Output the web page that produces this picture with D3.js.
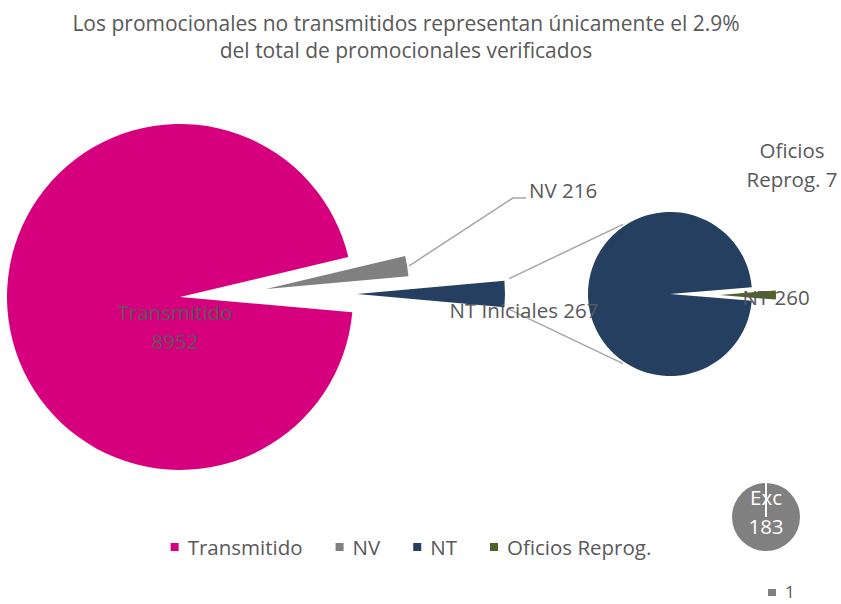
<!DOCTYPE html>
<html>
<head>
<meta charset="utf-8">
<script src="https://cdn.jsdelivr.net/npm/d3@7"></script>
<style>
body { margin: 0; background: #fff; }
text { font-family: "Open Sans", sans-serif; }
</style>
</head>
<body>
<script>
var w = 841;
var h = 604;

// data
var titleLines = ["Los promocionales no transmitidos representan únicamente el 2.9%",
                  "del total de promocionales verificados"];
var mainLabels = ["Transmitido", "NV", "NT Iniciales"];
var mainValues = [8952, 216, 267];
var subLabels = ["NT", "Oficios Reprog."];
var subValues = [260, 7];
var legendLabels = ["Transmitido", "NV", "NT", "Oficios Reprog."];
var excLabels = ["Exc"];
var excValues = [183];
var excLegend = ["1"];

var colors = ["#d6007f", "#808080", "#243f60", "#4f6228"];
var textColor = "#595959";
var lineColor = "#a6a6a6";

var svg = d3.select("body")
    .append("svg")
    .attr("width", w)
    .attr("height", h);

// title
svg.selectAll("text.title")
    .data(titleLines)
    .enter()
    .append("text")
    .attr("class", "title")
    .attr("x", 406)
    .attr("y", function(d, i) { return 31 + i * 27; })
    .attr("text-anchor", "middle")
    .attr("fill", textColor)
    .style("font-size", "21px")
    .text(function(d) { return d; });

// ---- main pie ----
var mainCx = 180, mainCy = 297, mainR = 173;
// NT slice centred at 3 o'clock, like Excel's pie of pie
var ntFrac = mainValues[2] / d3.sum(mainValues);
var mainRot = Math.PI / 2 + Math.PI * ntFrac;
var mainPie = d3.pie().sort(null).startAngle(mainRot).endAngle(mainRot + 2 * Math.PI);
var mainArcs = mainPie(mainValues);
var mainShift = [[0, 0], [86, -8], [177, -3]];   // exploded slices
var mainRadius = [mainR, 143, 148];
var mainColors = [colors[0], colors[1], colors[2]];

var mainGroup = svg.append("g").attr("id", "main");
mainGroup.selectAll("path")
    .data(mainArcs)
    .enter()
    .append("path")
    .attr("transform", function(d, i) {
        return "translate(" + (mainCx + mainShift[i][0]) + "," + (mainCy + mainShift[i][1]) + ")";
    })
    .attr("d", function(d, i) {
        return d3.arc().innerRadius(0).outerRadius(mainRadius[i])(d);
    })
    .attr("fill", function(d, i) { return mainColors[i]; });

function pt(cx, cy, r, a) {
    return [cx + r * Math.sin(a), cy - r * Math.cos(a)];
}

// ---- secondary pie ----
var subCx = 670, subCy = 294, subR = 82;
var ofFrac = subValues[1] / d3.sum(subValues);
var subRot = Math.PI / 2 + Math.PI * ofFrac;
var subPie = d3.pie().sort(null).startAngle(subRot).endAngle(subRot + 2 * Math.PI);
var subArcs = subPie(subValues);
var subShift = [[0, 0], [50, 1]];
var subRadius = [subR, 56];
var subColors = [colors[2], colors[3]];

// connector lines from exploded NT slice to secondary pie
var nt = mainArcs[2];
var ntCx = mainCx + mainShift[2][0], ntCy = mainCy + mainShift[2][1];
var connA = 56 * Math.PI / 180;
var connectors = [
    [pt(ntCx, ntCy, mainRadius[2], nt.startAngle), pt(subCx, subCy, subR + 2, -Math.PI / 2 + connA)],
    [pt(ntCx, ntCy, mainRadius[2], nt.endAngle), pt(subCx, subCy, subR + 2, -Math.PI / 2 - connA)]
];
svg.append("g").attr("id", "connectors")
    .selectAll("line")
    .data(connectors)
    .enter()
    .append("line")
    .attr("x1", function(d) { return d[0][0] + 0.04 * (d[1][0] - d[0][0]); })
    .attr("y1", function(d) { return d[0][1] + 0.04 * (d[1][1] - d[0][1]); })
    .attr("x2", function(d) { return d[1][0]; })
    .attr("y2", function(d) { return d[1][1]; })
    .attr("stroke", lineColor)
    .attr("stroke-width", 1.5);

var subGroup = svg.append("g").attr("id", "sub");
subGroup.selectAll("path")
    .data(subArcs)
    .enter()
    .append("path")
    .attr("transform", function(d, i) {
        return "translate(" + (subCx + subShift[i][0]) + "," + (subCy + subShift[i][1]) + ")";
    })
    .attr("d", function(d, i) {
        return d3.arc().innerRadius(0).outerRadius(subRadius[i])(d);
    })
    .attr("fill", function(d, i) { return subColors[i]; });

// NV leader line
var nv = mainArcs[1];
var nvMid = (nv.startAngle + nv.endAngle) / 2;
var nvStart = pt(mainCx + mainShift[1][0], mainCy + mainShift[1][1], mainRadius[1] + 2, nvMid);
svg.append("polyline")
    .attr("points", [nvStart, [513, 198], [526, 198]].map(function(p) { return p.join(","); }).join(" "))
    .attr("fill", "none")
    .attr("stroke", lineColor)
    .attr("stroke-width", 1.5);

// ---- data labels ----
var labels = [
    {lines: [mainLabels[0], mainValues[0]], x: 175, y: 320, anchor: "middle"},
    {lines: [mainLabels[1] + " " + mainValues[1]], x: 529, y: 198, anchor: "start"},
    {lines: [mainLabels[2] + " " + mainValues[2]], x: 524, y: 318, anchor: "middle"},
    {lines: [subLabels[0] + " " + subValues[0]], x: 776, y: 305, anchor: "middle"},
    {lines: ["Oficios", "Reprog. " + subValues[1]], x: 792, y: 158, anchor: "middle"}
];
var labelGroup = svg.append("g").attr("id", "labels");
labels.forEach(function(l) {
    var t = labelGroup.append("text")
        .attr("x", l.x)
        .attr("y", l.y)
        .attr("text-anchor", l.anchor)
        .attr("fill", textColor)
        .style("font-size", "20.5px");
    l.lines.forEach(function(s, i) {
        t.append("tspan")
            .attr("x", l.x)
            .attr("dy", i === 0 ? 0 : 29)
            .text(s);
    });
});

// ---- legend ----
var legend = svg.append("g").attr("id", "legend");
var legItems = legend.selectAll("g")
    .data(legendLabels)
    .enter()
    .append("g");
legItems.append("rect")
    .attr("width", 8).attr("height", 8)
    .attr("y", 543)
    .attr("fill", function(d, i) { return colors[i]; });
legItems.append("text")
    .attr("y", 555)
    .attr("fill", textColor)
    .style("font-size", "20.5px")
    .text(function(d) { return d; });
var widths = [];
legItems.select("text").each(function() { widths.push(this.getComputedTextLength()); });
var itemW = widths.map(function(tw) { return 17 + tw; });
var gap = 33;
var totalW = d3.sum(itemW) + gap * (itemW.length - 1);
var lx = 411 - totalW / 2;
legItems.attr("transform", function(d, i) {
    var x = lx + d3.sum(itemW.slice(0, i)) + gap * i;
    return "translate(" + x + ",0)";
});
legItems.select("text").attr("x", 17);

// ---- small "Exc" pie ----
var excCx = 766, excCy = 517, excR = 34;
var excArcs = d3.pie().sort(null)(excValues);
var excGroup = svg.append("g").attr("transform", "translate(" + excCx + "," + excCy + ")");
excGroup.selectAll("path")
    .data(excArcs)
    .enter()
    .append("path")
    .attr("d", d3.arc().innerRadius(0).outerRadius(excR))
    .attr("fill", colors[1]);
excGroup.append("line")
    .attr("x1", 0).attr("y1", 0)
    .attr("x2", excR * Math.sin(excArcs[0].startAngle))
    .attr("y2", -excR * Math.cos(excArcs[0].startAngle))
    .attr("stroke", "#fff")
    .attr("stroke-width", 2);
excGroup.append("text")
    .attr("text-anchor", "middle")
    .attr("fill", "#fff")
    .style("font-size", "20.5px")
    .selectAll("tspan")
    .data([excLabels[0], excValues[0]])
    .enter()
    .append("tspan")
    .attr("x", 0)
    .attr("y", function(d, i) { return -12 + i * 29; })
    .text(function(d) { return d; });

// tiny legend under it
svg.append("rect")
    .attr("x", 768).attr("y", 589)
    .attr("width", 8).attr("height", 7)
    .attr("fill", colors[1]);
svg.append("text")
    .attr("x", 785).attr("y", 598)
    .attr("fill", textColor)
    .style("font-size", "17px")
    .text(excLegend[0]);
</script>
</body>
</html>
